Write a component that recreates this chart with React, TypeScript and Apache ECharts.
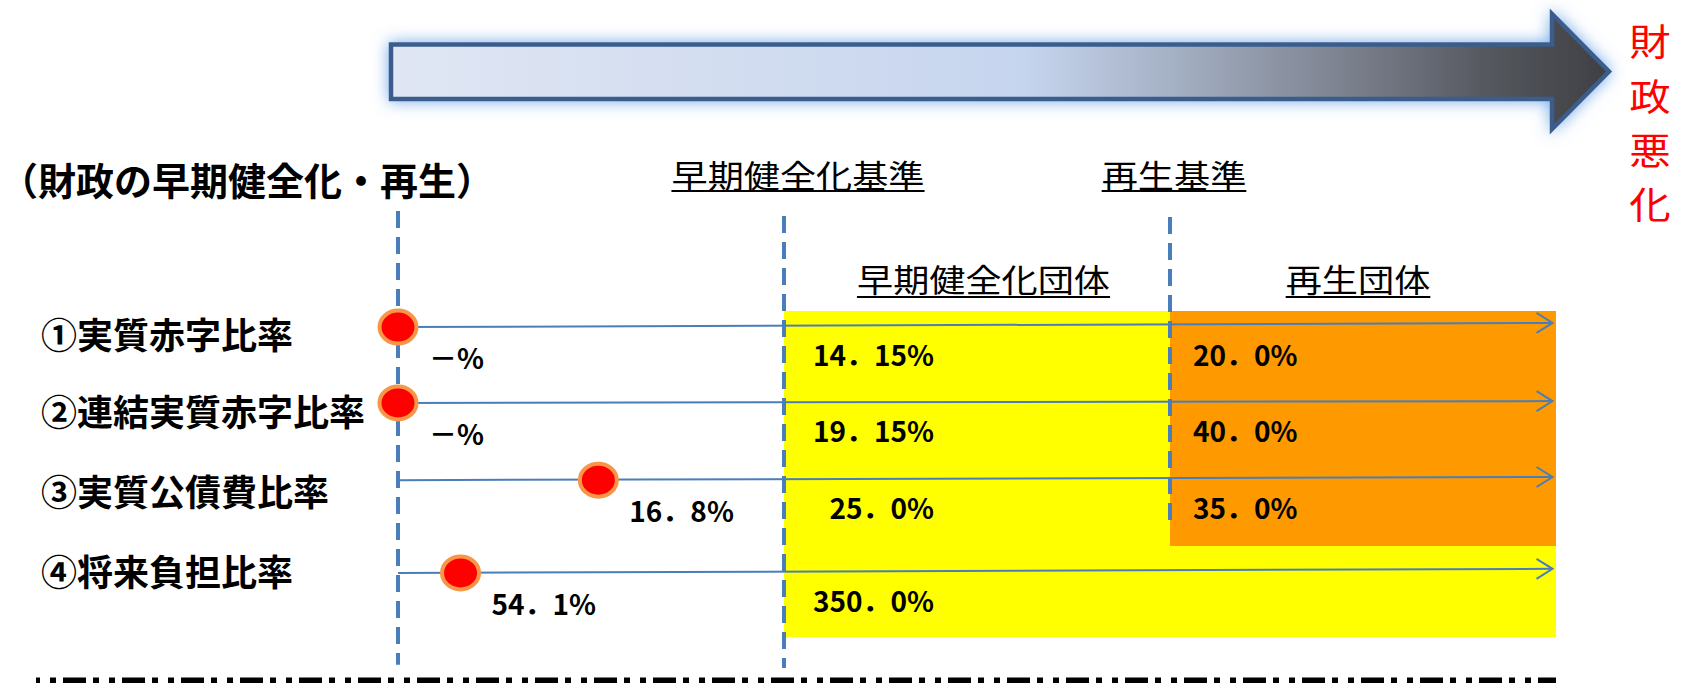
import React, { useEffect, useRef } from "react";
import * as echarts from "echarts";

// ---- data ----
const rowNames = ["①実質赤字比率", "②連結実質赤字比率", "③実質公債費比率", "④将来負担比率"];
const actualRatio: (number | null)[] = [null, null, 16.8, 54.1];
const earlyStandard: number[] = [14.15, 19.15, 25.0, 350.0];
const rebirthStandard: (number | null)[] = [20.0, 40.0, 35.0, null];
// schematic position of each municipality's ratio on the scale (0 = start line, 100 = right end)
const dotPosition = [0, 0, 17.3, 5.4];
// vertical level of each row (0 = top, 100 = bottom of the scale)
const rowLevelStart = [25.4, 42.0, 58.9, 79.2];
const rowLevelEnd = [24.5, 41.6, 58.2, 78.3];
const rowLabelLevel = [26.7, 43.5, 61.1, 78.6];
const arrowEnd = 99.7;

const criterionNames = ["早期健全化基準", "再生基準"];
const boundaryPosition = [0, 100 / 3, 200 / 3];
const boundaryTop = [0, 1.1, 1.3];
const boundaryBottom = [99.3, 100, 68.7];

const zoneNames = ["早期健全化団体", "再生団体"];
const zoneStart = [100 / 3, 200 / 3];
const zoneEnd = [100, 100];
const zoneTop = [21.9, 21.9];
const zoneBottom = [93.2, 73.3];

const titleText = "（財政の早期健全化・再生）";
const directionText = "財政悪化";

// ---- helpers ----
const FONT = '"Noto Sans CJK JP", "Noto Sans CJK SC", sans-serif';
const LINE_BLUE = "#4a7ebb";
const ZONE_COLORS = ["#ffff00", "#ff9900"];

function fmt(v: number | null): string {
  if (v == null) return "－%";
  const s = Number.isInteger(Math.round(v * 100) / 10) ? v.toFixed(1) : v.toFixed(2);
  return s.replace(".", "．") + "%";
}

function txt(text: string, x: number, y: number, font: string, align: string, extra: any = {}) {
  const { fill, ...rest } = extra;
  return {
    type: "text",
    x,
    y,
    ...rest,
    style: {
      text,
      font,
      fill: fill || "#000",
      align,
      textAlign: align,
      verticalAlign: "middle",
      textVerticalAlign: "middle",
    },
  };
}

export default function App() {
  const ref = useRef<HTMLDivElement>(null);

  useEffect(() => {
    if (!ref.current) return;
    const chart = echarts.init(ref.current, undefined, { renderer: "svg" });

    const headerFont = `32px ${FONT}`;
    const headerScale = 1.13;
    const headers = [
      { text: criterionNames[0], cx: 798, cy: 174, uy: 191 },
      { text: criterionNames[1], cx: 1174, cy: 174, uy: 191 },
      { text: zoneNames[0], cx: 983.5, cy: 277.5, uy: 297 },
      { text: zoneNames[1], cx: 1358, cy: 277.5, uy: 297 },
    ];
    const headerGraphics: any[] = [];
    headers.forEach((h) => {
      headerGraphics.push(
        txt(h.text, h.cx, h.cy, headerFont, "center", { scaleX: headerScale })
      );
      const w = h.text.length * 32 * headerScale;
      headerGraphics.push({
        type: "line",
        shape: { x1: h.cx - w / 2, y1: h.uy, x2: h.cx + w / 2, y2: h.uy },
        style: { stroke: "#000", lineWidth: 2 },
      });
    });

    // vertical red caption, one character per line
    const directionGraphics = directionText.split("").map((ch, i) =>
      txt(ch, 1650, 40 + i * 54.3, `37px ${FONT}`, "center", {
        fill: "#ff0000",
        scaleX: 1.12,
        scaleY: 1.0,
      })
    );

    const option: any = {
      animation: false,
      backgroundColor: "#ffffff",
      grid: { left: 398, right: 135, top: 211, bottom: 15 },
      xAxis: { type: "value", min: 0, max: 100, show: false },
      yAxis: { type: "value", min: 0, max: 100, inverse: true, show: false },
      graphic: [
        {
          type: "polygon",
          shape: {
            points: [
              [391, 44.5],
              [1552, 44.5],
              [1552, 14],
              [1609, 71.5],
              [1552, 129],
              [1552, 99],
              [391, 99],
            ],
          },
          style: {
            fill: {
              type: "linear",
              x: 0,
              y: 0,
              x2: 1,
              y2: 0,
              colorStops: [
                { offset: 0, color: "#e0e6f3" },
                { offset: 0.52, color: "#c6d5ee" },
                { offset: 0.64, color: "#a5b1c5" },
                { offset: 0.77, color: "#808694" },
                { offset: 0.9, color: "#55585f" },
                { offset: 1, color: "#3e3f44" },
              ],
            },
            stroke: "#3b5d8b",
            lineWidth: 4.5,
            lineJoin: "miter",
            shadowBlur: 16,
            shadowColor: "rgba(110,165,232,0.95)",
          },
        },
        ...directionGraphics,
        txt(titleText, 0, 178, `bold 38px ${FONT}`, "left"),
        ...headerGraphics,
        {
          type: "line",
          shape: { x1: 36, y1: 681, x2: 1556, y2: 681 },
          style: {
            stroke: "#000",
            lineWidth: 7,
            lineDash: [23, 7, 6, 10, 6, 7],
            lineDashOffset: 32,
          },
        },
      ],
      series: [
        {
          type: "custom",
          name: "zones",
          z: 1,
          data: zoneStart.map((s, i) => [s, zoneTop[i], zoneEnd[i], zoneBottom[i]]),
          renderItem: (params: any, api: any) => {
            const p1 = api.coord([api.value(0), api.value(1)]);
            const p2 = api.coord([api.value(2), api.value(3)]);
            return {
              type: "rect",
              shape: { x: p1[0], y: p1[1], width: p2[0] - p1[0], height: p2[1] - p1[1] },
              style: { fill: ZONE_COLORS[params.dataIndex] },
            };
          },
        },
        {
          type: "custom",
          name: "boundaries",
          z: 2,
          data: boundaryPosition.map((p, i) => [p, boundaryTop[i], boundaryBottom[i]]),
          renderItem: (params: any, api: any) => {
            const a = api.coord([api.value(0), api.value(1)]);
            const b = api.coord([api.value(0), api.value(2)]);
            return {
              type: "line",
              shape: { x1: a[0], y1: a[1], x2: b[0], y2: b[1] },
              style: { stroke: LINE_BLUE, lineWidth: 4, lineDash: [17, 9], fill: null },
            };
          },
        },
        {
          type: "custom",
          name: "rowArrows",
          z: 3,
          data: rowLevelStart.map((l, i) => [0, l, arrowEnd, rowLevelEnd[i]]),
          renderItem: (params: any, api: any) => {
            const a = api.coord([api.value(0), api.value(1)]);
            const b = api.coord([api.value(2), api.value(3)]);
            return {
              type: "group",
              children: [
                {
                  type: "line",
                  shape: { x1: a[0], y1: a[1], x2: b[0], y2: b[1] },
                  style: { stroke: LINE_BLUE, lineWidth: 2 },
                },
                {
                  type: "polyline",
                  shape: {
                    points: [
                      [b[0] - 16, b[1] - 10],
                      [b[0], b[1]],
                      [b[0] - 16, b[1] + 10],
                    ],
                  },
                  style: { stroke: LINE_BLUE, lineWidth: 2, fill: null },
                },
              ],
            };
          },
        },
        {
          type: "custom",
          name: "ratios",
          z: 4,
          data: dotPosition.map((p, i) => [p, rowLevelStart[i]]),
          renderItem: (params: any, api: any) => {
            const c = api.coord([api.value(0), api.value(1)]);
            return {
              type: "ellipse",
              shape: { cx: c[0], cy: c[1], rx: 18.5, ry: 16.5 },
              style: { fill: "#ff0000", stroke: "#f79646", lineWidth: 4 },
            };
          },
        },
        {
          type: "custom",
          name: "labels",
          z: 5,
          data: rowNames.map((_, i) => [dotPosition[i], rowLevelStart[i], rowLabelLevel[i]]),
          renderItem: (params: any, api: any) => {
            const i = params.dataIndex;
            const dot = api.coord([api.value(0), api.value(1)]);
            const lab = api.coord([0, api.value(2)]);
            const early = api.coord([zoneStart[0], api.value(1)]);
            const rebirth = api.coord([zoneStart[1], api.value(1)]);
            const valFont = `bold 28px ${FONT}`;
            const children: any[] = [
              txt(rowNames[i], params.coordSys.x - 357, lab[1], `bold 36px ${FONT}`, "left"),
              txt(fmt(actualRatio[i]), dot[0] + 31, dot[1] + 30, valFont, "left"),
              txt(fmt(earlyStandard[i]), early[0] + 150, early[1] + 27, valFont, "right"),
            ];
            if (rebirthStandard[i] != null) {
              children.push(txt(fmt(rebirthStandard[i]), rebirth[0] + 23, rebirth[1] + 27, valFont, "left"));
            }
            return { type: "group", children };
          },
        },
      ],
    };

    chart.setOption(option);
    return () => chart.dispose();
  }, []);

  return (
    <div
      ref={ref}
      style={{ position: "absolute", left: 0, top: 0, width: 1691, height: 683 }}
    />
  );
}
